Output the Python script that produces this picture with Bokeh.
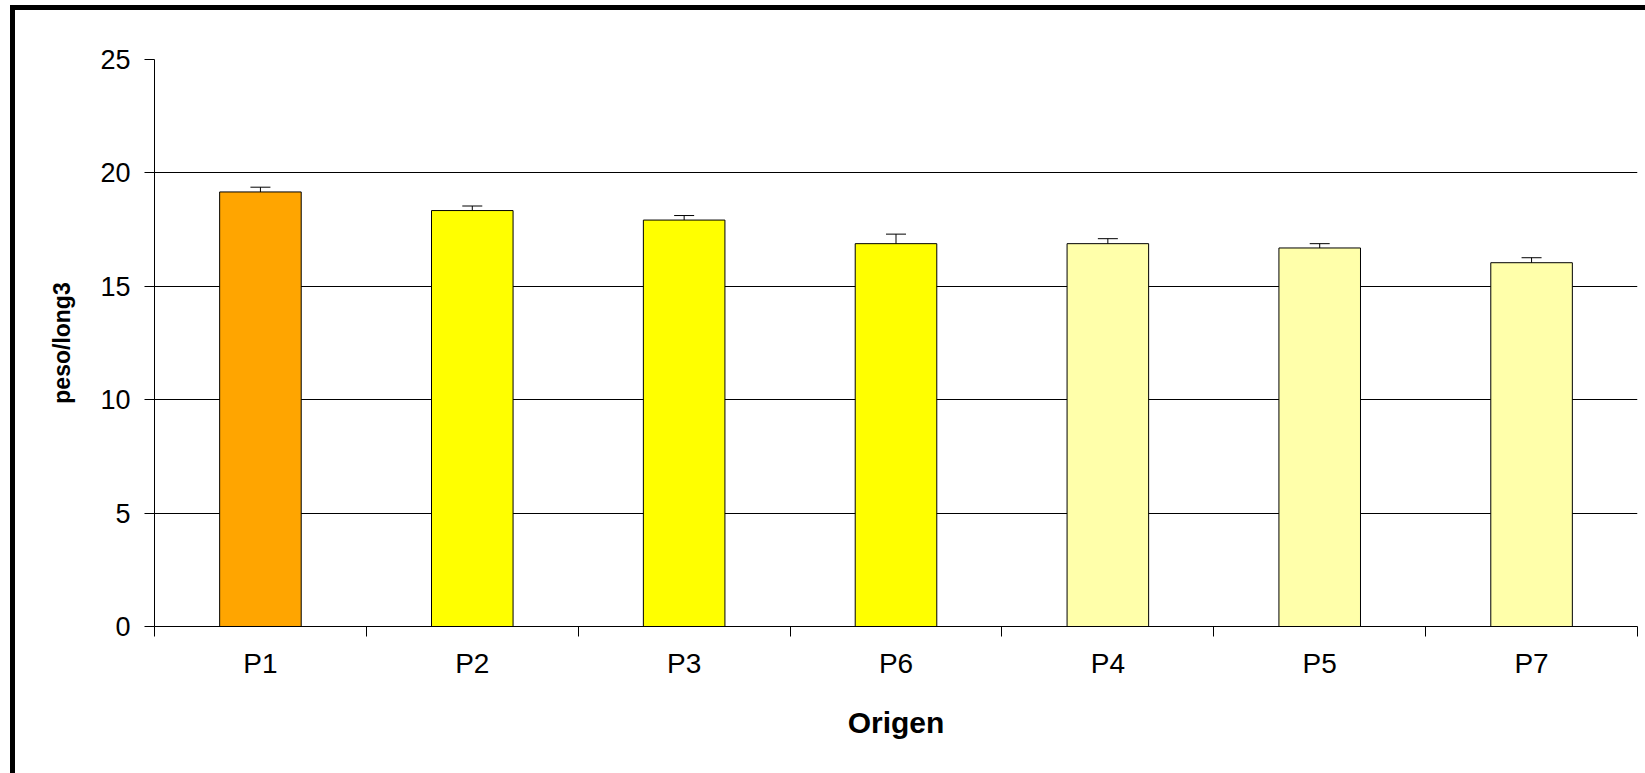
import numpy as np
from bokeh.plotting import figure
from bokeh.models import ColumnDataSource, Range1d, FixedTicker, Whisker, TeeHead
from bokeh.embed import file_html
from bokeh.resources import INLINE

# ---- data ----
categories = ["P1", "P2", "P3", "P6", "P4", "P5", "P7"]
values = [19.16, 18.34, 17.92, 16.88, 16.88, 16.69, 16.04]
errors = [0.21, 0.20, 0.20, 0.42, 0.22, 0.19, 0.22]
y_ticks = [0, 5, 10, 15, 20, 25]
x_title = "Origen"
y_title = "peso/long3"

# ---- style ----
bar_colors = ["#FFA500", "#FFFF00", "#FFFF00", "#FFFF00", "#FFFFAA", "#FFFFAA", "#FFFFAA"]
FONT = "Liberation Sans"

n = len(categories)
pos = np.arange(n) + 0.5
vals = np.array(values)
errs = np.array(errors)

src = ColumnDataSource(dict(
    x=pos, top=vals, upper=vals + errs, lower=vals - errs,
    color=bar_colors, cat=categories,
))

p = figure(
    width=1630, height=763,
    x_range=Range1d(0, n), y_range=Range1d(y_ticks[0], y_ticks[-1]),
    output_backend="svg", toolbar_location=None, tools="",
    min_border_left=139, min_border_right=13, min_border_top=49, min_border_bottom=152,
    background_fill_color="white", border_fill_color="white",
)
p.styles = {"border-left": "5px solid black", "border-top": "5px solid black",
            "box-sizing": "content-box",
            "margin-left": "10px", "margin-top": "5px"}
p.outline_line_color = None

p.vbar(x="x", top="top", bottom=0, width=0.385, source=src,
       fill_color="color", line_color="black", line_width=1)

w = Whisker(base="x", upper="upper", lower="lower", source=src,
            line_color="black", line_width=1,
            upper_head=TeeHead(size=20, line_color="black", line_width=1),
            lower_head=TeeHead(size=20, line_color="black", line_width=1))
p.add_layout(w)

# x axis: labels at category centres, tick marks at category boundaries
xa = p.xaxis[0]
xa.ticker = FixedTicker(ticks=list(pos), minor_ticks=list(np.arange(n + 1)))
xa.major_label_overrides = {float(x): c for x, c in zip(pos, categories)}
xa.major_tick_line_color = None
xa.major_tick_out = 10
xa.major_tick_in = 0
xa.minor_tick_out = 10
xa.minor_tick_in = 0
xa.minor_tick_line_color = "black"
xa.axis_line_color = "black"
xa.major_label_text_font = FONT
xa.major_label_text_font_size = "28px"
xa.major_label_text_color = "black"
xa.major_label_standoff = 11
xa.axis_label = x_title
xa.axis_label_text_font = FONT
xa.axis_label_text_font_style = "bold"
xa.axis_label_text_font_size = "30px"
xa.axis_label_text_color = "black"
xa.axis_label_standoff = 24

ya = p.yaxis[0]
ya.ticker = FixedTicker(ticks=y_ticks)
ya.major_tick_out = 10
ya.major_tick_in = 0
ya.minor_tick_line_color = None
ya.axis_line_color = "black"
ya.major_tick_line_color = "black"
ya.major_label_text_font = FONT
ya.major_label_text_font_size = "27px"
ya.major_label_text_color = "black"
ya.major_label_standoff = 14
ya.axis_label = y_title
ya.axis_label_text_font = FONT
ya.axis_label_text_font_style = "bold"
ya.axis_label_text_font_size = "23px"
ya.axis_label_text_color = "black"
ya.axis_label_standoff = 22

p.xgrid.grid_line_color = None
p.ygrid.ticker = FixedTicker(ticks=y_ticks)
p.ygrid.grid_line_color = "black"
p.ygrid.grid_line_width = 1

open("out.html", "w").write(file_html(p, INLINE))
